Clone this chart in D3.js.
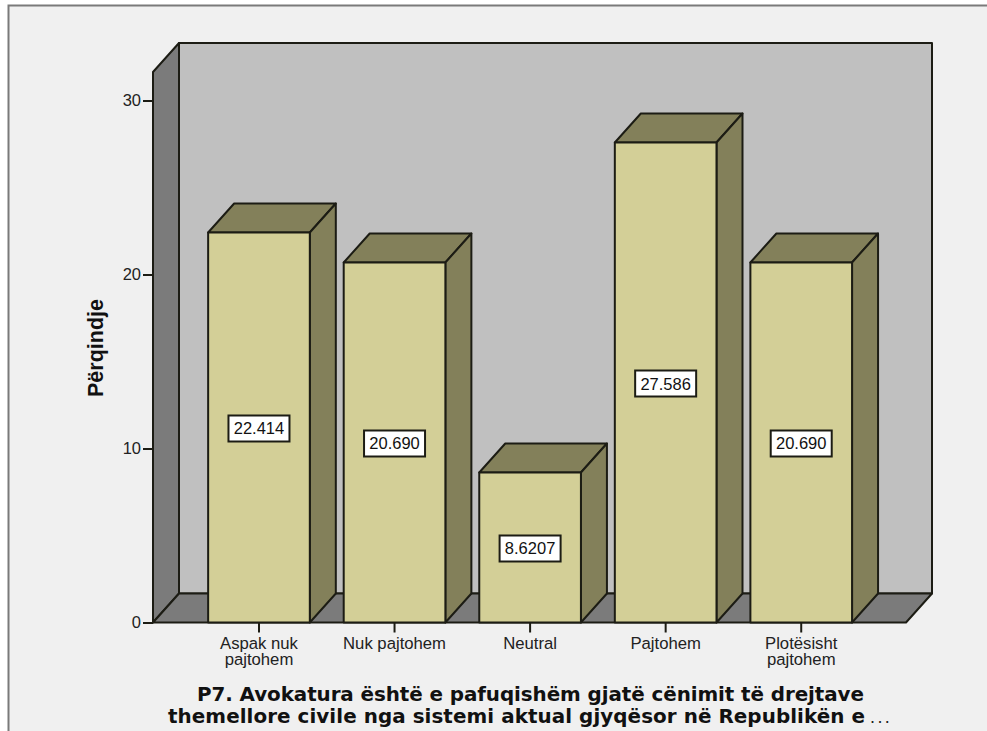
<!DOCTYPE html>
<html>
<head>
<meta charset="utf-8">
<script src="https://cdn.jsdelivr.net/npm/d3@7/dist/d3.min.js"></script>
<style>
html,body{margin:0;padding:0;background:#fff}
svg{display:block}
text{font-family:"Liberation Sans",Arial,sans-serif}
</style>
</head>
<body>
<svg id="chart" width="987" height="731"></svg>
<script>
const categories = [["Aspak nuk","pajtohem"],["Nuk pajtohem"],["Neutral"],["Pajtohem"],["Plotësisht","pajtohem"]];
const percents = [22.414, 20.690, 8.6207, 27.586, 20.690];
const valueLabels = ["22.414", "20.690", "8.6207", "27.586", "20.690"];
const yTicks = [0, 10, 20, 30];
const yTitle = "Përqindje";
const xTitle = ["P7. Avokatura është e pafuqishëm gjatë cënimit të drejtave",
                "themellore civile nga sistemi aktual gjyqësor në Republikën e"];

const svg = d3.select("#chart");
const ink = "#1c1c14";
const depthX = 26, depthY = -29;

const y = d3.scaleLinear().domain([0, 30]).range([622.5, 100.5]);
const x = d3.scaleBand().domain(d3.range(categories.length))
  .range([191.2, 869]).paddingInner(0.25).paddingOuter(0.125);
const plotLeft = 153, plotRight = 906, plotTop = y(30) - 28.5;

// window frame
svg.append("rect").attr("x", 8.5).attr("y", 5.5).attr("width", 985).attr("height", 740)
  .attr("fill", "#f0f0f0").attr("stroke", "#7a7a7a").attr("stroke-width", 2);

const poly = (pts, fill, sw = 2) => svg.append("path")
  .attr("d", "M" + pts.map(p => p.join(",")).join("L") + "Z")
  .attr("fill", fill).attr("stroke", ink).attr("stroke-width", sw).attr("stroke-linejoin", "round");

// chart box: back wall, side wall, floor
const y0 = y(0);
poly([[plotLeft + depthX, plotTop + depthY], [plotRight + depthX, plotTop + depthY],
      [plotRight + depthX, y0 + depthY], [plotLeft + depthX, y0 + depthY]], "#c0c0c0");
poly([[plotLeft, plotTop], [plotLeft + depthX, plotTop + depthY],
      [plotLeft + depthX, y0 + depthY], [plotLeft, y0]], "#7b7b7b");
poly([[plotLeft, y0], [plotLeft + depthX, y0 + depthY],
      [plotRight + depthX, y0 + depthY], [plotRight, y0]], "#7b7b7b");

// value axis
const yAxis = svg.append("g").attr("transform", `translate(${plotLeft},0)`)
  .call(d3.axisLeft(y).tickValues(yTicks).tickSize(10).tickPadding(2).tickFormat(d3.format("d")));
yAxis.select(".domain").remove();
yAxis.selectAll("line").attr("stroke", ink).attr("stroke-width", 2);
yAxis.selectAll("text").attr("font-size", 16.5).attr("fill", "#222");

svg.append("text").attr("transform", "translate(103,348) rotate(-90)")
  .attr("text-anchor", "middle").attr("font-size", 21.5).attr("font-weight", "bold").attr("fill", "#111")
  .text(yTitle);

// category axis, with wrapped labels kept in one text element per tick
const xAxis = svg.append("g").attr("transform", `translate(0,${y0})`)
  .call(d3.axisBottom(x).tickSize(10).tickFormat(""));
xAxis.select(".domain").remove();
xAxis.selectAll("line").attr("stroke", ink).attr("stroke-width", 2);
categories.forEach((lines, i) => {
  const cx = x(i) + x.bandwidth() / 2;
  const label = svg.append("text").attr("y", 649).attr("text-anchor", "middle")
    .attr("font-size", 16.7).attr("fill", "#222");
  lines.forEach((s, j) => {
    label.append("tspan").attr("x", cx).attr("dy", j ? 16 : 0).text(s);
  });
});

// bars
percents.forEach((v, i) => {
  const l = x(i), r = l + x.bandwidth(), t = y(v);
  poly([[l, t], [l + depthX, t + depthY], [r + depthX, t + depthY], [r, t]], "#83805a");
  poly([[r, t], [r + depthX, t + depthY], [r + depthX, y0 + depthY], [r, y0]], "#83805a");
  poly([[l, t], [r, t], [r, y0], [l, y0]], "#d3cf97");
});

// value labels
percents.forEach((v, i) => {
  const cx = x(i) + x.bandwidth() / 2, cy = (y(v) + y0) / 2 + 1;
  svg.append("rect").attr("x", cx - 30.5).attr("y", cy - 13).attr("width", 61).attr("height", 26)
    .attr("fill", "#fff").attr("stroke", ink).attr("stroke-width", 2);
  svg.append("text").attr("x", cx).attr("y", cy + 6).attr("text-anchor", "middle")
    .attr("font-size", 16.5).attr("fill", "#111").text(valueLabels[i]);
});

// category axis title, cut off with an ellipsis on its second line
const title = svg.append("g").attr("font-weight", "bold").attr("font-size", 19.9).attr("fill", "#111");
title.append("text").attr("x", 197).attr("y", 700.5).attr("textLength", 667)
  .style("font-family", "'DejaVu Sans',sans-serif").text(xTitle[0]);
title.append("text").attr("x", 168).attr("y", 722.5).attr("textLength", 697)
  .style("font-family", "'DejaVu Sans',sans-serif").text(xTitle[1]);
svg.append("text").attr("x", 870).attr("y", 722.5).attr("font-size", 18).attr("letter-spacing", 2.4)
  .attr("fill", "#222").text("...");
</script>
</body>
</html>
